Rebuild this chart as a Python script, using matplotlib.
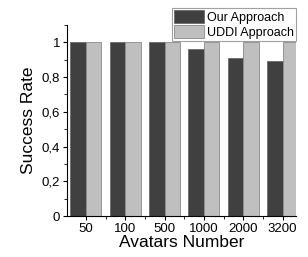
import numpy as np
import matplotlib.pyplot as plt
from matplotlib.ticker import MultipleLocator, FixedLocator

plt.rcParams["font.family"] = ["Liberation Sans", "DejaVu Sans"]

avatars = ["50", "100", "500", "1000", "2000", "3200"]
our_rate = [1.0, 1.0, 1.0, 0.96, 0.91, 0.89]
uddi_rate = [1.0, 1.0, 1.0, 1.0, 1.0, 1.0]
y_ticks = [0, 0.2, 0.4, 0.6, 0.8, 1.0]
y_tick_labels = ["0", "0,2", "0,4", "0,6", "0,8", "1"]

fig = plt.figure(figsize=(3.08, 2.57), dpi=100)
ax = fig.add_axes([0.2175, 0.1595, 0.7435, 0.7432])

x = np.arange(len(avatars))
w = 0.395
ax.bar(x - w / 2, our_rate, w, color="#404040", edgecolor="#6a6a6a",
       linewidth=0.6, label="Our Approach")
ax.bar(x + w / 2, uddi_rate, w, color="#bfbfbf", edgecolor="#8a8a8a",
       linewidth=0.6, label="UDDI Approach")

ax.set_xlim(-0.48, 5.34)
ax.set_ylim(0, 1.1)
ax.spines["top"].set_visible(False)
ax.spines["right"].set_visible(False)

ax.set_xticks(x)
ax.set_xticklabels(avatars, fontsize=9.5)
ax.xaxis.set_minor_locator(FixedLocator(x[:-1] + 0.5))
ax.set_yticks(y_ticks)
ax.set_yticklabels(y_tick_labels, fontsize=9.5)
ax.yaxis.set_minor_locator(MultipleLocator(0.1))
ax.tick_params(which="major", length=3, width=0.8, pad=2)
ax.tick_params(which="minor", length=2, width=0.6)

ax.set_xlabel("Avatars Number", fontsize=12.5, labelpad=0)
ax.set_ylabel("Success Rate", fontsize=12.5, labelpad=4)

# legend box sits partly above the plot area, right aligned with it
leg = ax.legend(loc="upper right", bbox_to_anchor=(1.0, 1.087), fontsize=9,
                frameon=True, fancybox=False, handlelength=2.4,
                handleheight=1.2, handletextpad=0.25, borderpad=0.15,
                labelspacing=0.12, borderaxespad=0)
leg.get_frame().set_edgecolor("#8a8a8a")
leg.get_frame().set_linewidth(0.8)

plt.savefig("out.png", dpi=100)
